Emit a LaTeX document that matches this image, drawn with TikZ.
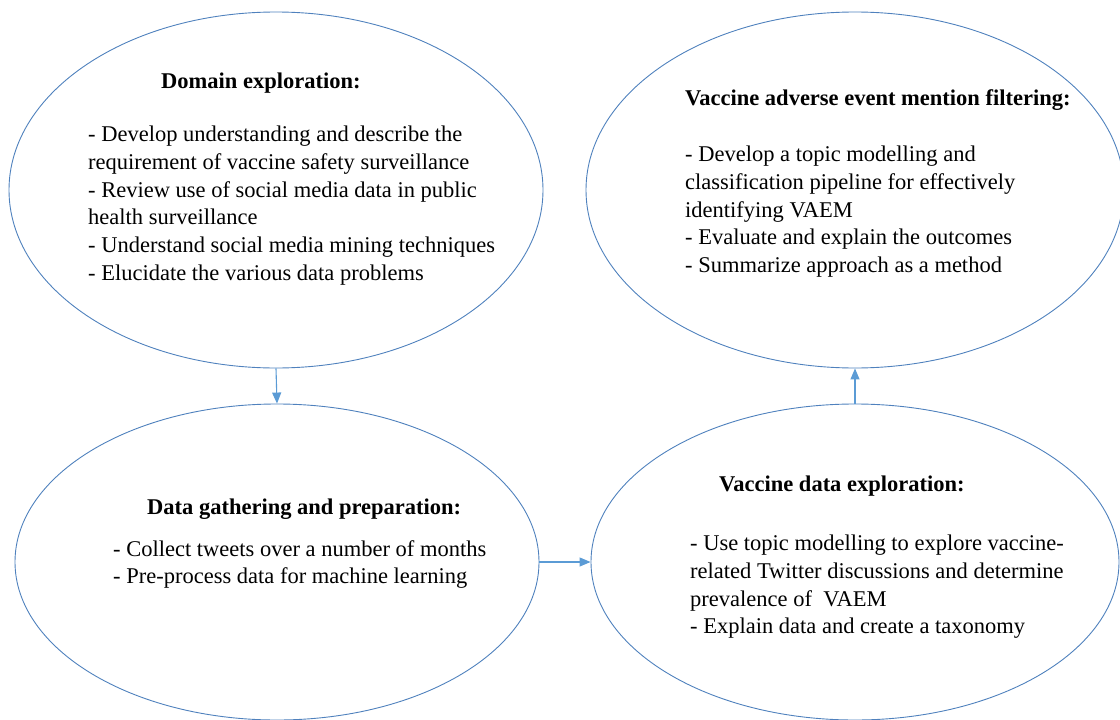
\documentclass[tikz,border=0pt]{standalone}
\usepackage{fontspec}
\setmainfont{Liberation Serif}
\usetikzlibrary{shapes.geometric,arrows.meta,positioning}
\definecolor{ovalblue}{RGB}{79,129,189}
\definecolor{arrowblue}{RGB}{91,155,213}
\tikzset{
  stage/.style={ellipse, draw=ovalblue, line width=0.9pt, inner sep=0pt},
  title/.style={anchor=west, inner sep=0pt, font=\fontsize{22.5}{27.7}\selectfont\bfseries},
  items/.style={anchor=north west, inner sep=0pt, align=left, font=\fontsize{22.5}{27.7}\selectfont},
  flow/.style={draw=arrowblue, line width=1.1pt, -{Triangle[length=11pt,width=9pt]}}
}
\begin{document}
\begin{tikzpicture}[x=1pt,y=-1pt]
  \useasboundingbox (0,0) rectangle (1120,720);
  % the four stages
  \node[stage, minimum width=534, minimum height=356] (domain) at (276,190) {};
  \node[stage, minimum width=538, minimum height=356] (filter) at (855,190) {};
  \node[stage, minimum width=524, minimum height=316] (gather) at (277,562) {};
  \node[stage, minimum width=528, minimum height=316] (vaxdata) at (855,562) {};
  % texts
  \node[title] (domaint) at (161,83) {Domain exploration:};
  \node[items] (domaini) at (88,126) {- Develop understanding and describe the\\
    requirement of vaccine safety surveillance\\
    - Review use of social media data in public\\
    health surveillance\\
    - Understand social media mining techniques\\
    - Elucidate the various data problems};
  \node[title] (filtert) at (685,100) {Vaccine adverse event mention filtering:};
  \node[items] (filteri) at (685,146) {- Develop a topic modelling and\\
    classification pipeline for effectively\\
    identifying VAEM\\
    - Evaluate and explain the outcomes\\
    - Summarize approach as a method};
  \node[title] (gathert) at (147,509) {Data gathering and preparation:};
  \node[items] (gatheri) at (113,540) {- Collect tweets over a number of months\\
    - Pre-process data for machine learning};
  \node[title] (vaxdatat) at (719,486) {Vaccine data exploration:};
  \node[items] (vaxdatai) at (690,535) {- Use topic modelling to explore vaccine-\\
    related Twitter discussions and determine\\
    prevalence of~ VAEM\\
    - Explain data and create a taxonomy};
  % connectors
  \draw[flow] (domain.south) -- (gather.north);
  \draw[flow] (gather.east) -- (vaxdata.west);
  \draw[flow] (vaxdata.north) -- (filter.south);
\end{tikzpicture}
\end{document}
